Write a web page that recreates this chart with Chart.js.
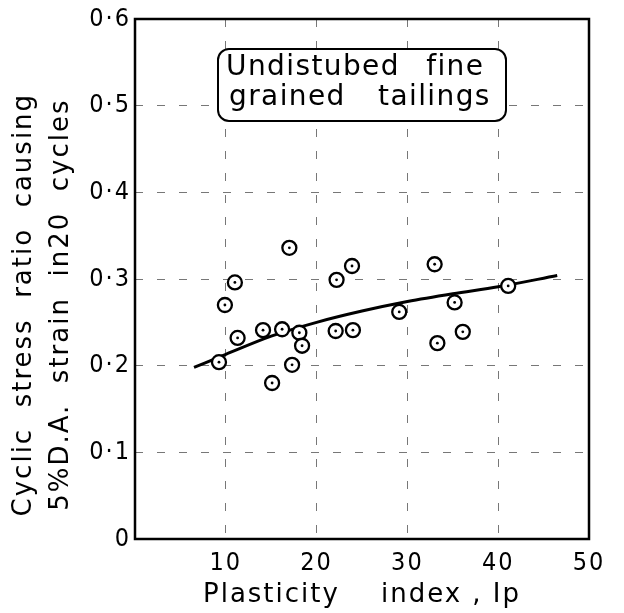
<!DOCTYPE html>
<html>
  <head>
    <title>Cyclic stress ratio vs plasticity index</title>
    <script src="https://cdn.jsdelivr.net/npm/chart.js@4/dist/chart.umd.min.js"></script>
    <style>
      body {
        margin: 0;
        background: #fff;
      }

      .wrap {
        position: relative;
        width: 624px;
        height: 613px;
      }

      .note {
        position: absolute;
        left: 217px;
        top: 48px;
        width: 290px;
        height: 74px;
        box-sizing: border-box;
        border: 2.5px solid #000;
        border-radius: 12px;
        background: #fff;
        padding: 1px 0 0 7px;
        font-family: "DejaVu Sans", sans-serif;
        font-size: 28px;
        line-height: 30px;
        letter-spacing: 1.4px;
        word-spacing: 16px;
        white-space: nowrap;
        color: #000;
      }
    </style>
  </head>
  <body>
    <div class="wrap">
      <canvas id="chart" width="624" height="613"></canvas>
      <div class="note">
        <div>Undistubed fine</div>
        <div style="margin-left: 3px; word-spacing: 22px">grained tailings</div>
      </div>
    </div>

    <script>
      // measured points (plasticity index, cyclic stress ratio)
      const ipValues = [17, 11, 9.9, 22.2, 23.9, 29.1, 11.3, 14.1, 16.2, 18.1, 18.4,
        17.3, 15.1, 9.25, 22.1, 24.0, 33.0, 41.1, 35.2, 36.1, 33.3];
      const csrValues = [0.336, 0.296, 0.270, 0.299, 0.315, 0.262, 0.232, 0.241, 0.242,
        0.238, 0.223, 0.201, 0.180, 0.204, 0.240, 0.241, 0.317, 0.292, 0.273, 0.239, 0.226];

      // trend curve
      const curveIp = [6.5, 10, 15, 20, 25, 30, 35, 40, 46.5];
      const curveCsr = [0.198, 0.213, 0.234, 0.25, 0.263, 0.274, 0.283, 0.291, 0.304];

      const xTicks = [0, 10, 20, 30, 40, 50];
      const yTicks = [0, 0.1, 0.2, 0.3, 0.4, 0.5, 0.6];

      const points = ipValues.map((x, i) => ({ x: x, y: csrValues[i] }));
      const curve = curveIp.map((x, i) => ({ x: x, y: curveCsr[i] }));

      Chart.defaults.color = "#000";
      Chart.defaults.font.family = "'DejaVu Sans', sans-serif";
      const tickFont = { family: "'DejaVu Sans Condensed', 'DejaVu Sans', sans-serif", size: 25 };

      const spacing = {
        id: "spacing",
        beforeUpdate(chart) {
          chart.ctx.letterSpacing = "2px";
        },
        beforeDraw(chart) {
          chart.ctx.letterSpacing = "2px";
        },
      };

      const frame = {
        id: "frame",
        afterDraw(chart) {
          const a = chart.chartArea;
          const ctx = chart.ctx;
          ctx.save();
          ctx.strokeStyle = "#000";
          ctx.lineWidth = 2.5;
          ctx.strokeRect(a.left, a.top, a.right - a.left, a.bottom - a.top);
          ctx.restore();
        },
      };

      const gridStyle = {
        color: "#777",
        lineWidth: 1,
        drawTicks: false,
      };

      new Chart("chart", {
        type: "scatter",
        data: {
          datasets: [
            {
              // centre dots, drawn on top
              data: points,
              pointRadius: 1.4,
              pointBorderWidth: 0,
              pointBackgroundColor: "#000",
            },
            {
              data: points,
              pointRadius: 7,
              pointBorderWidth: 2.3,
              pointBorderColor: "#000",
              pointBackgroundColor: "#fff",
            },
            {
              data: curve,
              showLine: true,
              borderColor: "#000",
              borderWidth: 3,
              pointRadius: 0,
              tension: 0.4,
              cubicInterpolationMode: "monotone",
            },
          ],
        },
        options: {
          animation: false,
          responsive: false,
          layout: { padding: { top: 15, right: 35, left: 0, bottom: 0 } },
          plugins: {
            legend: { display: false },
            tooltip: { enabled: false },
          },
          scales: {
            x: {
              type: "linear",
              min: 0,
              max: 50,
              afterBuildTicks: (axis) => {
                axis.ticks = xTicks.map((v) => ({ value: v }));
              },
              afterFit: (axis) => {
                axis.height = 74;
              },
              grid: gridStyle,
              border: { display: false, dash: [8, 14] },
              ticks: {
                padding: 9,
                font: tickFont,
                callback: (v) => (v === 0 ? "" : String(v)),
              },
              title: {
                display: true,
                text: "Plasticity    index , Ip",
                font: { size: 26 },
                padding: { top: 0, bottom: 2 },
              },
            },
            y: {
              min: 0,
              max: 0.6,
              afterBuildTicks: (axis) => {
                axis.ticks = yTicks.map((v) => ({ value: v }));
              },
              afterFit: (axis) => {
                axis.width = 135;
              },
              grid: gridStyle,
              border: { display: false, dash: [8, 14] },
              ticks: {
                padding: 4,
                font: tickFont,
                callback: (v) => (v === 0 ? "0" : v.toFixed(1).replace(".", "·")),
              },
              title: {
                display: true,
                text: ["Cyclic  stress  ratio  causing     ", "5%D.A.  strain  in20  cycles     "],
                font: { size: 26, lineHeight: 1.45 },
                padding: { top: 5, bottom: 0 },
              },
            },
          },
        },
        plugins: [spacing, frame],
      });
    </script>
  </body>
</html>
